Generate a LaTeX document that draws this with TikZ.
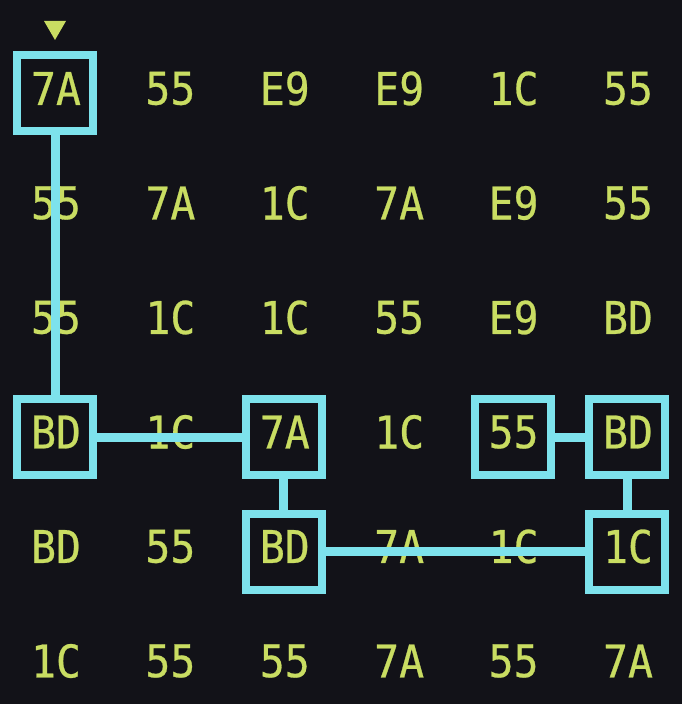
\documentclass[tikz,border=0pt]{standalone}
\usepackage{fontspec}
\newfontfamily\hexfont[FakeStretch=0.92, FakeBold=0.6]{DejaVu Sans Mono}

\definecolor{bg}{HTML}{121218}
\definecolor{hexcol}{HTML}{C9DD62}
\definecolor{pathcol}{HTML}{7DE2EC}

\tikzset{
  cell/.style={text=hexcol, font=\hexfont\fontsize{22.5}{22.5}\selectfont, inner sep=0pt},
  pick/.style={draw=pathcol, line width=4pt, minimum size=38pt, inner sep=0pt},
  link/.style={draw=pathcol, line width=4.5pt}
}

\begin{document}
\begin{tikzpicture}[x=0.5pt, y=-0.5pt]
\fill[bg] (0,0) rectangle (682,704);
\useasboundingbox (0,0) rectangle (682,704);

% hex grid
\foreach \row [count=\j from 0] in {{7A,55,E9,E9,1C,55},{55,7A,1C,7A,E9,55},{55,1C,1C,55,E9,BD},{BD,1C,7A,1C,55,BD},{BD,55,BD,7A,1C,1C},{1C,55,55,7A,55,7A}}
  \foreach \v [count=\i from 0] in \row
    \node[cell] (c-\i-\j) at (56+114.4*\i, 88.5+114.5*\j) {\v};

% chosen cells
\foreach \i/\j in {0/0, 0/3, 2/3, 2/4, 5/4, 5/3, 4/3}
  \node[pick] (b-\i-\j) at ([xshift=-0.5pt, yshift=-2.5pt]c-\i-\j) {};

% path
\draw[link] (b-0-0) -- (b-0-3);
\draw[link] (b-0-3) -- (b-2-3);
\draw[link] (b-2-3) -- (b-2-4);
\draw[link] (b-2-4) -- (b-5-4);
\draw[link] (b-5-4) -- (b-5-3);
\draw[link] (b-5-3) -- (b-4-3);

% column marker
\fill[hexcol] (44,21) -- (66,21) -- (55,40) -- cycle;
\end{tikzpicture}
\end{document}
